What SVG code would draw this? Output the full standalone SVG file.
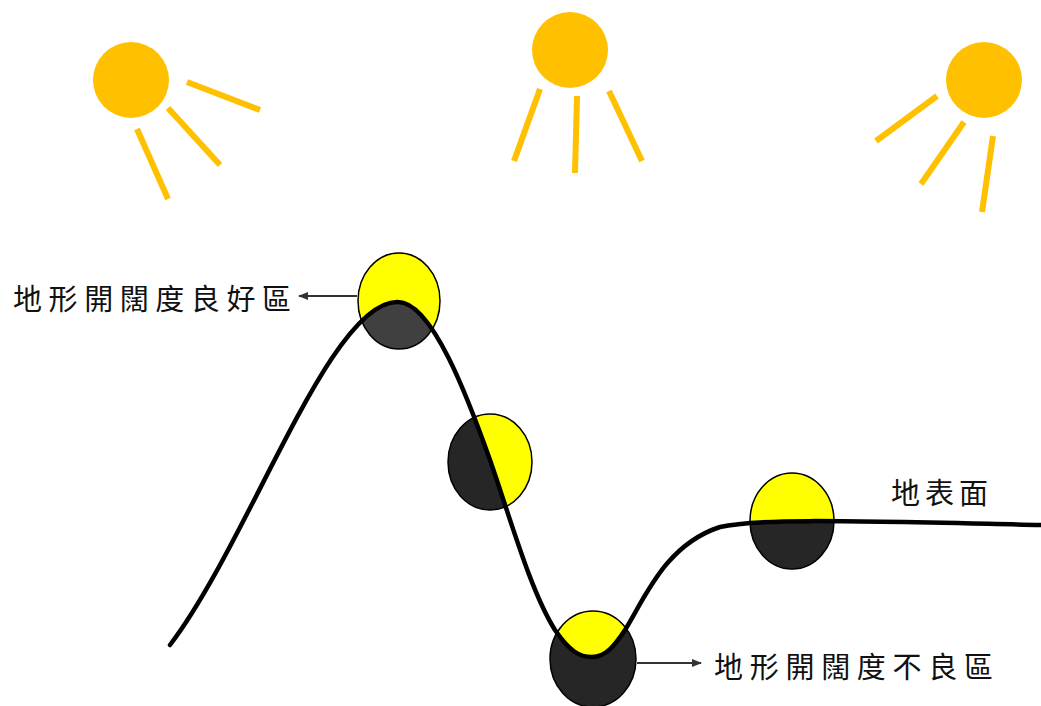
<svg xmlns="http://www.w3.org/2000/svg" width="1041" height="706" viewBox="0 0 1041 706">
  <style>
    .sun { fill: #FFC000; }
    .ray { stroke: #FFC000; stroke-width: 6; stroke-linecap: butt; }
    .lit { fill: #FFFF00; }
    .shade { fill: #262626; }
    .rim { fill: none; stroke: #000; stroke-width: 1.5; }
    .ground { fill: none; stroke: #000; stroke-width: 4.5; stroke-linecap: round; stroke-linejoin: round; }
    .lead { stroke: #333; stroke-width: 2; fill: none; }
    .label { font-family: "Noto Sans CJK TC", "Noto Sans CJK SC", sans-serif; font-size: 29px; fill: #111; }
  </style>
  <defs>
    <path id="surface" d="M170,645 C250,540 330,300 398,302 C432,302 468,398 490,460 C510,517 530,590 555,630 C570,652 580,657 592,657 C606,657 615,645 625,630 C645,598 665,545 720,527 C760,518 850,521 1041,525"/>
    <clipPath id="below">
      <path d="M170,645 C250,540 330,300 398,302 C432,302 468,398 490,460 C510,517 530,590 555,630 C570,652 580,657 592,657 C606,657 615,645 625,630 C645,598 665,545 720,527 C760,518 850,521 1041,525 L1041,720 L170,720 Z"/>
    </clipPath>
    <marker id="tip" viewBox="0 0 10 10" refX="9" refY="5" markerWidth="5" markerHeight="5" orient="auto-start-reverse" markerUnits="strokeWidth">
      <path d="M0,1 L10,5 L0,9 Z" fill="#333"/>
    </marker>
  </defs>

  <!-- suns -->
  <g id="sun-left">
    <circle class="sun" cx="131" cy="80" r="38"/>
    <line class="ray" x1="187" y1="82" x2="260" y2="110"/>
    <line class="ray" x1="168" y1="108" x2="220" y2="165"/>
    <line class="ray" x1="137" y1="129" x2="168" y2="199"/>
  </g>
  <g id="sun-middle">
    <circle class="sun" cx="570" cy="50" r="38"/>
    <line class="ray" x1="540" y1="89" x2="514" y2="161"/>
    <line class="ray" x1="577" y1="96" x2="575" y2="173"/>
    <line class="ray" x1="609" y1="91" x2="642" y2="161"/>
  </g>
  <g id="sun-right">
    <circle class="sun" cx="984" cy="80" r="38"/>
    <line class="ray" x1="937" y1="96" x2="876" y2="141"/>
    <line class="ray" x1="964" y1="122" x2="921" y2="184"/>
    <line class="ray" x1="993" y1="136" x2="982" y2="212"/>
  </g>

  <!-- sample spots: lit part above the surface, shaded part below -->
  <g id="spot-peak">
    <ellipse class="lit" cx="399" cy="301" rx="41" ry="48"/>
    <ellipse fill="#404040" cx="399" cy="301" rx="41" ry="48" clip-path="url(#below)"/>
    <ellipse class="rim" cx="399" cy="301" rx="41" ry="48"/>
  </g>
  <g id="spot-slope">
    <ellipse class="lit" cx="490" cy="462" rx="42" ry="48"/>
    <ellipse class="shade" cx="490" cy="462" rx="42" ry="48" clip-path="url(#below)"/>
    <ellipse class="rim" cx="490" cy="462" rx="42" ry="48"/>
  </g>
  <g id="spot-valley">
    <ellipse class="lit" cx="593" cy="659" rx="43" ry="48"/>
    <ellipse class="shade" cx="593" cy="659" rx="43" ry="48" clip-path="url(#below)"/>
    <ellipse class="rim" cx="593" cy="659" rx="43" ry="48"/>
  </g>
  <g id="spot-plain">
    <ellipse class="lit" cx="792" cy="521" rx="42" ry="48"/>
    <ellipse class="shade" cx="792" cy="521" rx="42" ry="48" clip-path="url(#below)"/>
    <ellipse class="rim" cx="792" cy="521" rx="42" ry="48"/>
  </g>

  <!-- connectors -->
  <g id="connectors">
    <use href="#surface" class="ground"/>
    <line class="lead" x1="357" y1="296" x2="299" y2="296" marker-end="url(#tip)"/>
    <line class="lead" x1="637" y1="663" x2="701" y2="663" marker-end="url(#tip)"/>
  </g>

  <!-- labels -->
  <g id="label-good">
    <text class="label" x="13" y="310" textLength="278" lengthAdjust="spacing">地形開闊度良好區</text>
  </g>
  <g id="label-poor">
    <text class="label" x="714" y="678" textLength="279" lengthAdjust="spacing">地形開闊度不良區</text>
  </g>
  <g id="label-surface">
    <text class="label" x="891" y="504" textLength="97" lengthAdjust="spacing">地表面</text>
  </g>
</svg>
